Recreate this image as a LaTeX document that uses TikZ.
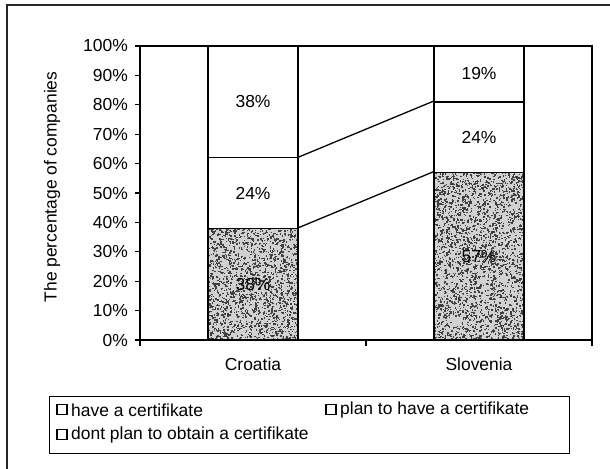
\documentclass[tikz,border=0pt]{standalone}
\usepackage{fontspec}
\setmainfont{Liberation Sans}
\newcommand\specklebox[5]{% x0 y0 x1 y1 count (scope units)
  \begin{scope}
    \clip (#1,#2) rectangle (#3,#4);
    \fill[black!18] (#1,#2) rectangle (#3,#4);
    \foreach \i in {1,...,#5}{
      \fill[black!75] ({#1+(#3-#1)*rnd},{#2+(#4-#2)*rnd}) rectangle ++(1.4bp,1.4bp);
    }
  \end{scope}}
\begin{document}
\begin{tikzpicture}[x=1bp,y=-1bp,
  font=\fontsize{17.5}{21}\selectfont,
  frame/.style={line width=1.5bp, black!85},
  axisline/.style={line width=1.3bp},
  seg/.style={draw, line width=1.3bp, minimum width=90bp, inner sep=0pt},
  ticklab/.style={anchor=east, inner sep=0pt},
  catlab/.style={inner sep=0pt},
  legbox/.style={draw, line width=1.2bp, minimum width=10bp, minimum height=10bp, inner sep=0pt},
  legtext/.style={anchor=west, inner sep=0pt},
  series/.style={line width=1.3bp}]
\useasboundingbox (0,0) rectangle (610,469);
\fill[white] (0,0) rectangle (610,469);
% outer frame (left and top edges)
\coordinate (fa) at (7,469);
\coordinate (fb) at (7,5);
\coordinate (fc) at (610,5);
\draw[frame] (fa) -- (fb) -- (fc);
\pgfmathsetseed{42}
\begin{scope}[yshift=-340bp, x=1bp, y=2.94bp]
  % speckled fills
  \specklebox{208}{0}{298}{38}{1700}
  \specklebox{434}{0}{524}{57}{2550}
  % axes and plot frame
  \coordinate (o) at (140,0);
  \coordinate (ot) at (140,100);
  \coordinate (rt) at (592,100);
  \coordinate (rb) at (592,0);
  \coordinate (mid) at (366,0);
  \draw[axisline] (ot) -- (o) -- (rb) -- (rt) -- (ot);
  \foreach \v in {0,10,...,100}{
    \coordinate (t\v) at (140,\v);
    \draw[axisline] (t\v) -- ++(-5bp,0);
    \node[ticklab] (l\v) at (128,\v) {\v\%};
  }
  \draw[axisline] (o) -- ++(0,-6bp);
  \draw[axisline] (mid) -- ++(0,-6bp);
  \draw[axisline] (rb) -- ++(0,-6bp);
  % bars
  \node[seg, minimum height=111.72bp] (cr1) at (253,19) {38\%};
  \node[seg, minimum height=70.56bp] (cr2) at (253,50) {24\%};
  \node[seg, minimum height=111.72bp] (cr3) at (253,81) {38\%};
  \node[seg, minimum height=167.58bp] (sl1) at (479,28.5) {57\%};
  \node[seg, minimum height=70.56bp] (sl2) at (479,69) {24\%};
  \node[seg, minimum height=55.86bp] (sl3) at (479,90.5) {19\%};
  % series lines
  \draw[series] (cr1.north east) -- (sl1.north west);
  \draw[series] (cr2.north east) -- (sl2.north west);
\end{scope}
% category labels
\node[catlab] (cro) at (253,364) {Croatia};
\node[catlab] (slo) at (479,364) {Slovenia};
% y axis title
\node[rotate=90, inner sep=0pt] (ytitle) at (52,187) {The percentage of companies};
% legend
\node[draw, line width=1.4bp, minimum width=520bp, minimum height=57bp, anchor=north west, inner sep=0pt] (leg) at (49,396) {};
\node[legbox] (m1) at (62,409.5) {};
\node[legtext] (t1) at (71,410) {have a certifikate};
\node[legbox] (m2) at (331,409.5) {};
\node[legtext] (t2) at (340,410) {plan to have a certifikate};
\node[legbox] (m3) at (62,434.5) {};
\node[legtext] (t3) at (71,435) {dont plan to obtain a certifikate};
\end{tikzpicture}
\end{document}
